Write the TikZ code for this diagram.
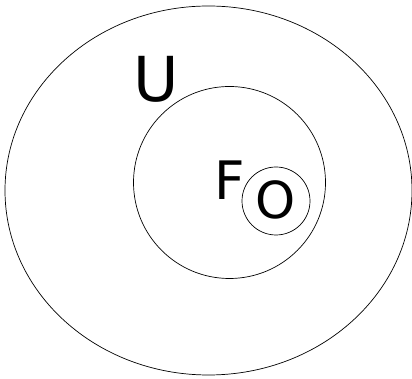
\documentclass[tikz,border=0pt]{standalone}
\usepackage{fontspec}
\setmainfont{DejaVu Sans}
\usetikzlibrary{shapes.geometric}
\begin{document}
\begin{tikzpicture}[x=1pt,y=1pt,
  setline/.style={draw=black,line width=0.7pt},
  lbl/.style={inner sep=0pt,text=black}]
\useasboundingbox (0,0) rectangle (412,379);
\node[setline,ellipse,minimum width=407pt,minimum height=369pt,inner sep=0pt] (outer) at (208.5,188.5) {};
\node[setline,circle,minimum size=192pt,inner sep=0pt] (mid) at (229.5,196.5) {};
\node[setline,circle,minimum size=68pt,inner sep=0pt] (small) at (276,178) {};
\node[lbl,font=\fontsize{62}{62}\selectfont] (U) at (156.5,300) {U};
\node[lbl,font=\fontsize{53}{53}\selectfont] (F) at (229.5,198.5) {F};
\node[lbl,font=\fontsize{51}{51}\selectfont] (O) at (276,179) {O};
\end{tikzpicture}
\end{document}
